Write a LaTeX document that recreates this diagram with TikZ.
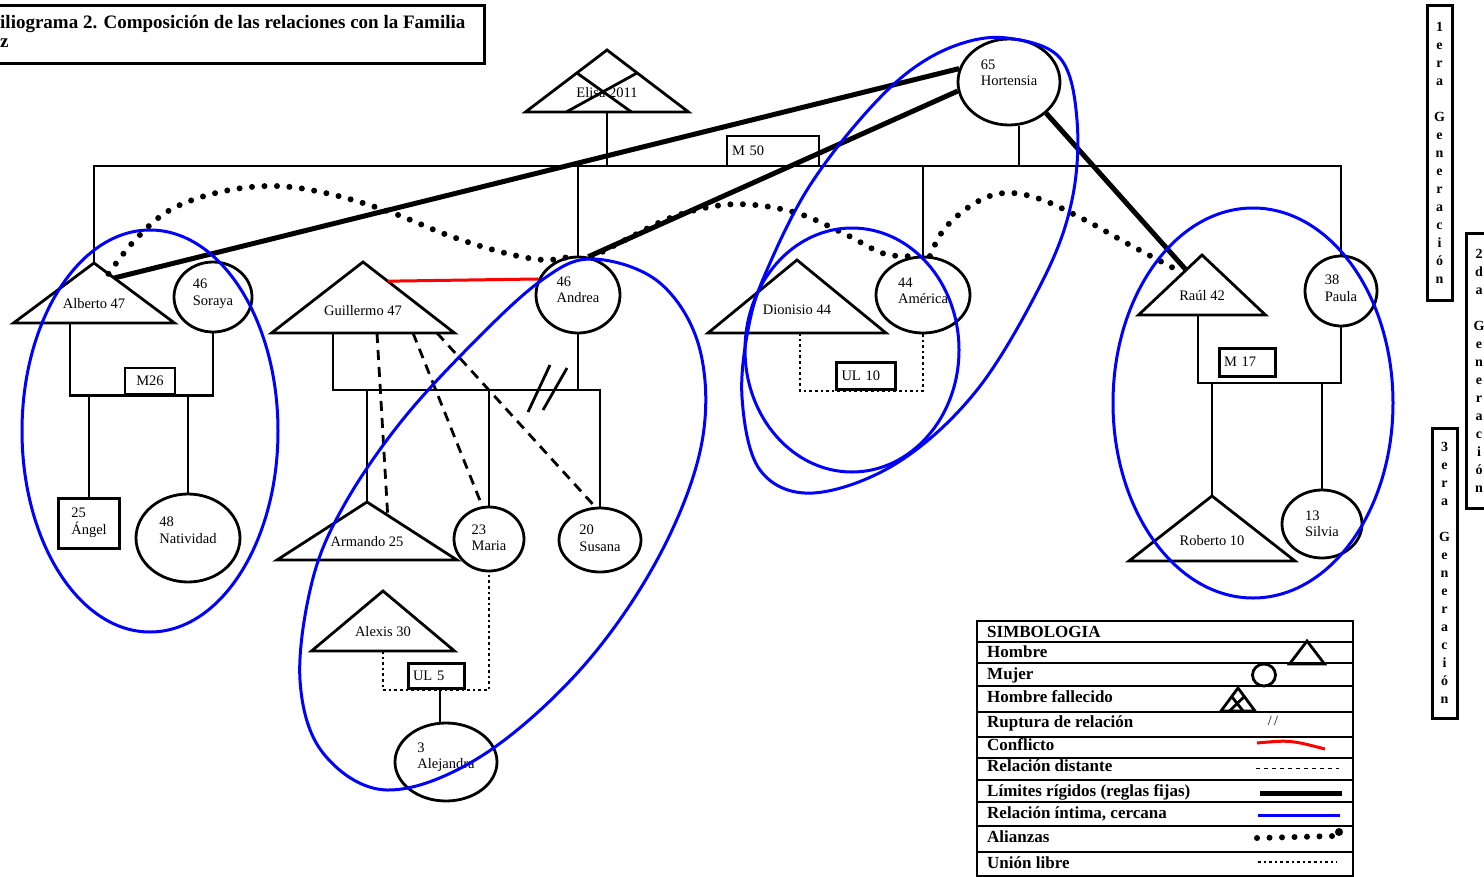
\documentclass[tikz,border=0pt]{standalone}
\usepackage{fontspec}
\setmainfont{Liberation Serif}
\usetikzlibrary{calc,shapes.geometric}
\newcommand\nombre{\fontsize{14.5}{16.5}\selectfont}
\newcommand\leyenda{\fontsize{17}{19}\selectfont\bfseries}
\newcommand\titulo{\fontsize{19}{19}\selectfont\bfseries}
% hombre: nombre, x, y (vertice), media base, altura, texto
\newcommand\hombre[6]{%
  \coordinate (#1) at (#2,#3);
  \coordinate (#1-l) at ($(#1)+(-#4,#5)$);
  \coordinate (#1-r) at ($(#1)+(#4,#5)$);
  \coordinate (#1-b) at ($(#1)+(0,#5)$);
  \draw[persona] (#1) -- (#1-r) -- (#1-l) -- cycle;
  \node[font=\nombre, inner sep=0pt] (#1-t) at ($(#1)+(0,{0.68*#5})$) {#6};
}
% mujer: nombre, x, y (centro), ancho, alto, texto, subida del texto
\newcommand\mujer[7]{%
  \node[mujer, minimum width=#4pt, minimum height=#5pt] (#1) at (#2,#3) {};
  \node[font=\nombre, align=left, inner sep=0pt] (#1-t) at ($(#1)+(0,-#7)$) {#6};
}
\tikzset{
  persona/.style={line width=2.8pt},
  lazo/.style={line width=2.8pt},
  mujer/.style={draw, ellipse, line width=2.8pt, inner sep=0pt},
  caja/.style={draw, line width=2.8pt, inner xsep=5pt, inner ysep=0pt, align=left, font=\nombre},
  rigido/.style={line width=5pt},
  intima/.style={blue, line width=3pt},
  conflicto/.style={red, line width=3pt},
  distante/.style={line width=2.8pt, dash pattern=on 10pt off 7pt},
  alianza/.style={line width=6pt, line cap=round, dash pattern=on 0pt off 12.5pt},
  libre/.style={line width=2.8pt, dash pattern=on 2.6pt off 3pt},
  gen/.style={draw, line width=3pt, minimum width=25pt, inner sep=0pt, align=center, font=\fontsize{14}{18}\selectfont\bfseries},
}
\begin{document}
\begin{tikzpicture}[x=1pt, y=-1pt]
\useasboundingbox (0,0) rectangle (1484,876);
% titulo
\draw[line width=3pt] (-20,5) rectangle (484,63);
\node[anchor=north west, align=left, inner sep=0pt, font=\titulo] (titulo) at (0,15) {iliograma 2. Composición de las relaciones con la Familia\\z};

% primera generacion
\hombre{elisa}{607}{50}{81.5}{62}{Elisa 2011}
\draw[persona] ($(elisa)!0.37!(elisa-l)$) -- ($(elisa-l)!0.65!(elisa-r)$);
\draw[persona] ($(elisa)!0.37!(elisa-r)$) -- ($(elisa-l)!0.25!(elisa-r)$);
\mujer{hortensia}{1009}{82}{102}{86}{65\\Hortensia}{9}

% segunda generacion
\hombre{alberto}{94}{263}{80.5}{60}{Alberto 47}
\mujer{soraya}{213}{297}{78}{70}{46\\Soraya}{3}
\hombre{guillermo}{363}{262}{91.5}{71}{Guillermo 47}
\mujer{andrea}{578}{295}{84}{76}{46\\Andrea}{5}
\hombre{dionisio}{797}{260}{89}{73}{Dionisio 44}
\mujer{america}{923}{295}{94}{76}{44\\América}{4}
\hombre{raul}{1202}{255}{63.5}{60}{Raúl 42}
\mujer{paula}{1341}{291}{72}{70}{38\\Paula}{3}

% tercera generacion
\node[caja, line width=3pt, minimum width=61pt, minimum height=50pt] (angel) at (89,523) {25\\Ángel};
\mujer{natividad}{188}{538}{104}{88}{48\\Natividad}{8}
\hombre{armando}{367}{502}{90}{58}{Armando 25}
\mujer{maria}{489}{539}{70}{64}{23\\Maria}{1}
\mujer{susana}{600}{540}{82}{64}{20\\Susana}{2}
\hombre{alexis}{383}{591}{71.5}{60}{Alexis 30}
\mujer{alejandra}{446}{762}{102}{78}{3\\Alejandra}{5}
\hombre{roberto}{1212}{496}{83}{65}{Roberto 10}
\mujer{silvia}{1322}{524}{80}{68}{13\\Silvia}{0}

% uniones
\node[caja, text width=82pt, minimum height=30pt] (m50) at (773,151) {M 50};
\node[caja, minimum width=50pt, minimum height=26pt, align=center] (m26) at (150,381) {M26};
\node[caja, line width=3pt, text width=46pt, minimum height=25pt] (ul5) at (436,676) {UL 5};
\node[caja, text width=49pt, minimum height=27pt] (ul10) at (866,376) {UL 10};
\node[caja, line width=3pt, text width=46pt, minimum height=28pt] (m17) at (1247,362) {M 17};

% hermanos
\coordinate (bar) at (0,166);
\draw[lazo] (alberto) |- (paula.north |- bar) -- (paula.north);
\draw[lazo] (elisa-b) -- (elisa-b |- bar);
\draw[lazo] (hortensia.283) -- (hortensia.283 |- bar);
\draw[lazo] (andrea.north) -- (andrea.north |- bar);
\draw[lazo] (america.north) -- (america.north |- bar);

% Alberto y Soraya
\draw[lazo] ([xshift=-24pt]alberto-b) |- (m26.south) -| (soraya.south);
\draw[lazo] (angel.north) -- (angel.north |- m26.south);
\draw[lazo] (natividad.north) -- (natividad.north |- m26.south);

% Guillermo y Andrea
\coordinate (ga) at (0,390);
\draw[lazo] ([xshift=-30pt]guillermo-b) |- (susana.north |- ga) -- (susana.north);
\draw[lazo] (andrea.south) -- (andrea.south |- ga);
\draw[lazo] (armando) -- (armando |- ga);
\draw[lazo] (maria.north) -- (maria.north |- ga);
\coordinate (corte) at (547,389);
\draw[lazo] ($(corte)+(3,-24)$) -- ++(-22,47);
\draw[lazo] ($(corte)+(20,-21)$) -- ++(-24,42);
\draw[distante] ([xshift=14pt]guillermo-b) -- ($(armando)!0.23!(armando-r)$);
\draw[distante] ([xshift=50pt]guillermo-b) -- ($(maria.north)+(-7,0)$);
\draw[distante] ([xshift=74pt]guillermo-b) -- ($(susana.north)+(-5,0)$);
\draw[conflicto] ($(guillermo)!0.27!(guillermo-r)$) -- (andrea.158);

% Alexis y Maria
\draw[libre] (alexis-b) |- (ul5.south) -| (maria.south);
\draw[lazo] ([xshift=-6pt]alejandra.north) -- ([xshift=-6pt]alejandra.north |- ul5.south);

% Dionisio y America
\draw[libre] ([xshift=3pt]dionisio-b) |- (ul10.south) -| (america.south);

% Raul y Paula
\coordinate (rp) at (0,383);
\draw[lazo] ([xshift=-4pt]raul-b) |- (paula.south |- rp) -- (paula.south);
\draw[lazo] (roberto) -- (roberto |- rp);
\draw[lazo] (silvia.north) -- (silvia.north |- rp);

% limites rigidos
\draw[rigido] (hortensia.165) -- ($(alberto)!0.25!(alberto-r)$);
\draw[rigido] (hortensia.190) -- (andrea.75);
\draw[rigido] (hortensia.-40) -- ($(raul)!0.25!(raul-l)$);

% alianzas
\coordinate (a1) at ($(alberto)!0.18!(alberto-r)$);
\coordinate (c2) at ($(raul)!0.3!(raul-l)$);
\draw[alianza] plot[smooth, tension=0.6] coordinates {(a1) (135,240) (170,210) (220,192) (275,186) (330,194) (390,212) (450,236) (505,253) (545,260) (andrea.100)};
\draw[alianza] plot[smooth, tension=0.6] coordinates {(andrea.70) (625,240) (670,218) (715,206) (755,205) (800,214) (845,234) (885,254) (america.95)};
\draw[alianza] plot[smooth, tension=0.6] coordinates {(america.80) (945,228) (975,203) (1005,193) (1040,199) (1085,220) (1130,245) (c2)};

% relaciones intimas
\draw[intima] (150,431) ellipse [x radius=128, y radius=201];
\draw[intima] plot[smooth cycle, tension=0.6] coordinates {(593,259) (660,283) (700,350) (701,447) (657,560) (580,670) (480,757) (387,790) (323,753) (300,680) (312,582) (343,507) (400,423) (473,343) (542,280)};
\draw[intima] plot[smooth cycle, tension=0.6] coordinates {(1007,38) (1060,58) (1077,120) (1072,200) (1043,280) (977,390) (897,463) (813,493) (760,470) (742,397) (750,320) (770,263) (807,190) (857,123) (907,73) (957,45)};
\draw[intima] (852,350) ellipse [x radius=107, y radius=122];
\draw[intima] (1253,403) ellipse [x radius=140, y radius=195];

% simbologia
\draw[line width=2.2pt] (977,621) rectangle (1353,876);
\foreach \y in {642,663,686,712,737,758,780,802,826,852}
  \draw[line width=2.2pt] (977,\y) -- (1353,\y);
\foreach \y/\t [count=\i] in {637/SIMBOLOGIA, 657/Hombre, 679/Mujer, 702/Hombre fallecido, 727/Ruptura de relación, 750/Conflicto, 771/Relación distante, 796/Límites rígidos (reglas fijas), 818/{Relación íntima, cercana}, 842/Alianzas, 868/Unión libre}
  \node[anchor=base west, inner sep=0pt, font=\leyenda] (ley-\i) at (987,\y) {\t};
\hombre{lh}{1307}{641}{17.5}{23}{}
\node[mujer, minimum width=23pt, minimum height=22pt] (lm) at (1264,675) {};
\hombre{lf}{1238}{688}{17}{23}{}
\draw[persona] ($(lf)!0.37!(lf-l)$) -- ($(lf-l)!0.65!(lf-r)$);
\draw[persona] ($(lf)!0.37!(lf-r)$) -- ($(lf-l)!0.25!(lf-r)$);
\node[font=\fontsize{14}{14}\selectfont, inner sep=0pt] (lr) at (1273,721) {/\,/};
\draw[conflicto] (1257,743) .. controls (1290,740) .. (1325,749);
\draw[line width=1pt, dash pattern=on 4pt off 4pt] (1256,768) -- (1339,768);
\draw[rigido] (1260,793) -- (1342,793);
\draw[intima] (1258,815) -- (1340,815);
\draw[alianza] (1257,838) -- (1335,836);
\fill (1339,832) circle (4);
\draw[libre] (1258,862) -- (1337,862);

% generaciones
\node[gen, minimum height=295pt] (gen1) at (1439.5,152.5) {1\\e\\r\\a\\[18pt]G\\e\\n\\e\\r\\a\\c\\i\\ó\\n};
\node[gen, minimum height=275pt] (gen2) at (1479,370.5) {2\\d\\a\\[18pt]G\\e\\n\\e\\r\\a\\c\\i\\ó\\n};
\node[gen, minimum height=290pt] (gen3) at (1444.5,573) {3\\e\\r\\a\\[18pt]G\\e\\n\\e\\r\\a\\c\\i\\ó\\n};
\end{tikzpicture}
\end{document}
